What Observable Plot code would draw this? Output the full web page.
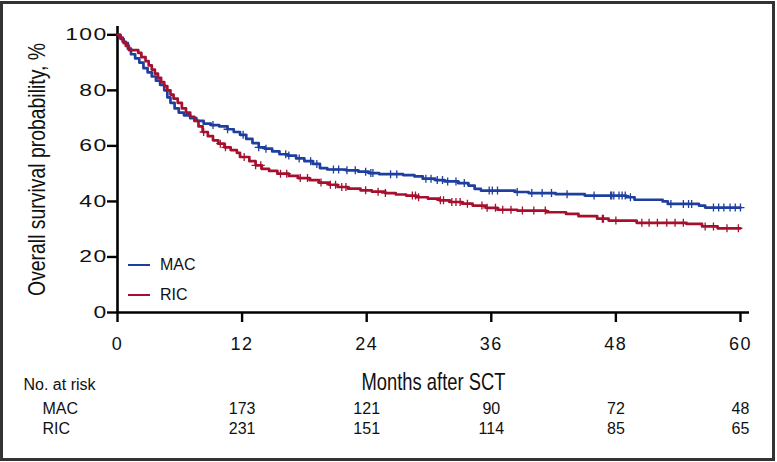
<!DOCTYPE html>
<html><head><meta charset="utf-8">
<script src="https://cdn.jsdelivr.net/npm/d3@7"></script>
<script src="https://cdn.jsdelivr.net/npm/@observablehq/plot@0.6"></script>
<style>
html,body{margin:0;padding:0;background:#fff;}
#wrap{position:relative;width:777px;height:462px;overflow:hidden;font-family:"Liberation Sans",Arial,sans-serif;background:#fff;}
#frame{position:absolute;left:0;top:1px;width:775px;height:460px;border:3.5px solid #333;box-sizing:border-box;pointer-events:none;}
#legend{position:absolute;left:128px;top:250px;font-size:16px;color:#111;}
.item{display:flex;align-items:center;height:30px;}
.sw{width:22px;height:0;border-top:2.6px solid;margin-right:10px;}
svg text{fill:#111}
g[aria-label="y-axis tick label"] text{letter-spacing:1px}
g[aria-label="x-axis tick label"] text{letter-spacing:1.5px}
</style></head><body>
<div id="wrap"><div id="chart"></div><div id="legend"></div><div id="frame"></div></div>
<script>
// ---- data ----
const groups = ["MAC", "RIC"];
const colors = ["#1f3f9f", "#a6102e"];

const macTime = [0,0.3,0.6,1.0,1.3,1.7,2.1,2.5,2.9,3.3,3.7,4.1,4.5,4.8,5.1,5.5,5.9,6.4,7.0,7.6,8.3,9.0,9.8,10.6,11.2,11.8,12.4,13.0,13.6,14.2,14.9,15.6,16.4,17.2,18.0,18.8,19.5,20.2,22.0,23.2,24.2,25.2,27.5,28.6,29.4,30.6,31.5,32.8,33.8,34.4,35.0,38.3,39.6,42.2,45.0,49.0,49.8,52.5,53.0,56.0,56.6,60];
const macSurv = [100,98.5,97,95,93,91.5,90,88,86.5,85,83.5,82,80,77.5,75.5,73.5,72,71,70,69,68,67.5,67,66,65,64,62.5,61,59.5,59,58,57,56.5,55.5,54.5,53.5,52,51.5,51.2,50.7,50.2,49.8,49.5,49,48.2,47.7,47.2,46.6,45.7,44.5,43.9,43.4,43.0,42.6,42.1,41.5,40.6,40.0,39.1,38.5,37.8,37.8];

const ricTime = [0,0.2,0.5,0.8,1.1,2.0,2.3,2.7,3.0,3.3,3.6,3.9,4.2,4.5,4.8,5.1,5.4,5.8,6.2,6.6,7.0,7.4,7.8,8.2,8.7,9.2,9.7,10.3,10.9,11.5,11.8,12.7,13.3,13.9,14.6,15.4,16.5,17.4,18.5,19.4,20.4,21.2,22.2,23.4,24.5,25.8,26.8,27.8,28.8,29.9,31.0,32.0,33.2,34.2,35.5,36.6,38.5,41.3,43.2,44.4,46.2,47.3,50.0,54.8,56.3,57.8,60];
const ricSurv = [100,99,97.5,96,94.5,93.5,92,90.5,89,87.5,86,84.5,83,81.5,80,78.5,77,75.5,73.5,72,70.5,69,67,65,63.5,62,60.8,59.5,58.5,57.5,56,54.5,53,51.7,51,50,49.2,48.4,47.7,46.8,46,45.2,44.6,44,43.5,43,42.5,42.1,41.5,41,40.4,39.8,39.2,38.5,37.7,37.0,36.7,36.1,35.5,34.7,33.8,33.1,32.3,31.9,31.0,30.3,30.3];

const macCensor = [9.2,10.6,12.1,13.6,14.3,16.2,16.5,17.5,18.6,19.2,20.8,21.3,22.1,22.9,23.9,24.4,24.6,26.3,26.9,29.7,30.2,30.8,31.3,31.8,32.6,33.4,35.8,36.1,36.6,38.5,39.9,40.9,41.8,43.3,45.9,47.5,47.6,47.8,48.3,48.6,48.9,49.4,53.3,54.5,55.0,55.3,57.4,57.9,58.4,59.0,59.5,60];
const ricCensor = [8.3,9.9,10.4,12.2,13.3,13.8,15.7,16.3,17.6,18.3,19.6,20.5,21.0,21.6,22.0,23.9,25.1,25.8,28.4,28.7,29.0,31.1,31.4,32.2,32.6,33.0,33.7,35.1,35.6,36.4,37.1,37.9,39.0,40.1,41.2,46.7,46.8,48.0,50.5,51.2,52.0,52.9,53.7,54.5,56.6,57.4,58.7,59.8];

const xTicks = [0, 12, 24, 36, 48, 60];
const yTicks = [0, 20, 40, 60, 80, 100];
const riskTimes = [12, 24, 36, 48, 60];
const macRisk = [173, 121, 90, 72, 48];
const ricRisk = [231, 151, 114, 85, 65];

const yTitle = "Overall survival probability, %";
const xTitle = "Months after SCT";
const riskTitle = "No. at risk";

// ---- build ----
const toRows = (T, S, g) => T.map((t, i) => ({t, s: S[i], g}));
const curves = [...toRows(macTime, macSurv, "MAC"), ...toRows(ricTime, ricSurv, "RIC")];
const stepAt = (T, S, t) => S[Math.max(0, d3.bisectRight(T, t) - 1)];
const censors = [
  ...macCensor.map(t => ({t, s: stepAt(macTime, macSurv, t), g: "MAC"})),
  ...ricCensor.map(t => ({t, s: stepAt(ricTime, ricSurv, t), g: "RIC"}))
];
const macRows = riskTimes.map((t, i) => ({t, n: macRisk[i]}));
const ricRows = riskTimes.map((t, i) => ({t, n: ricRisk[i]}));
const font = '"Liberation Sans", Arial, sans-serif';

const plot = Plot.plot({
  width: 777, height: 462,
  marginLeft: 117, marginRight: 28, marginTop: 26, marginBottom: 150,
  style: {fontFamily: font, fontSize: "16px", color: "#111", background: "transparent", overflow: "visible"},
  x: {domain: [0, 60.87], label: null},
  y: {domain: [0, 103], label: null},
  color: {domain: groups, range: colors},
  marks: [
    Plot.ruleX([0], {stroke: "#000", strokeWidth: 2.6}),
    Plot.ruleY([0], {stroke: "#000", strokeWidth: 2.6}),
    Plot.axisY({ticks: yTicks, tickSize: 10, tickPadding: 0, fontSize: 17, strokeWidth: 2.4, stroke: "#000", label: null}),
    Plot.axisX({ticks: xTicks, tickSize: 10, tickPadding: 15, fontSize: 18, strokeWidth: 2.4, stroke: "#000", label: null}),
    Plot.line(curves, {x: "t", y: "s", z: "g", stroke: "g", curve: "step-after", strokeWidth: 2.7}),
    Plot.dot(censors, {x: "t", y: "s", stroke: "g", symbol: "plus", r: 2.7, strokeWidth: 1.3}),
    Plot.text([yTitle], {frameAnchor: "left", textAnchor: "middle", lineAnchor: "middle", rotate: -90, dx: -80, fontSize: 23}),
    Plot.text([xTitle], {frameAnchor: "bottom", lineAnchor: "middle", dy: 70, fontSize: 24}),
    Plot.text([riskTitle], {frameAnchor: "bottom-left", lineAnchor: "middle", dx: -94, dy: 72, textAnchor: "start", fontSize: 16}),
    Plot.text([groups[0]], {frameAnchor: "bottom-left", lineAnchor: "middle", dx: -75, dy: 96, textAnchor: "start", fontSize: 16}),
    Plot.text([groups[1]], {frameAnchor: "bottom-left", lineAnchor: "middle", dx: -75, dy: 116, textAnchor: "start", fontSize: 16}),
    Plot.text(macRows, {x: "t", text: "n", frameAnchor: "bottom", lineAnchor: "middle", dy: 96, fontSize: 16}),
    Plot.text(ricRows, {x: "t", text: "n", frameAnchor: "bottom", lineAnchor: "middle", dy: 116, fontSize: 16})
  ]
});
document.getElementById("chart").append(plot);

// condense the titles to the reference's narrow face; widen y tick labels
const scaleText = (el, s) => {
  const tr = el.getAttribute("transform") || "";
  el.setAttribute("transform", tr + ` scale(${s},1)`);
};
plot.querySelectorAll("text").forEach(el => {
  if (el.textContent === yTitle) scaleText(el, 253 / el.getComputedTextLength());
  if (el.textContent === xTitle) scaleText(el, 144 / el.getComputedTextLength());
});
plot.querySelectorAll('g[aria-label="y-axis tick label"] text').forEach(el => scaleText(el, 1.35));

const legend = document.getElementById("legend");
groups.forEach((g, i) => {
  const item = document.createElement("div");
  item.className = "item";
  const sw = document.createElement("span");
  sw.className = "sw";
  sw.style.borderTopColor = colors[i];
  const lab = document.createElement("span");
  lab.textContent = g;
  item.append(sw, lab);
  legend.append(item);
});
</script>
</body></html>
